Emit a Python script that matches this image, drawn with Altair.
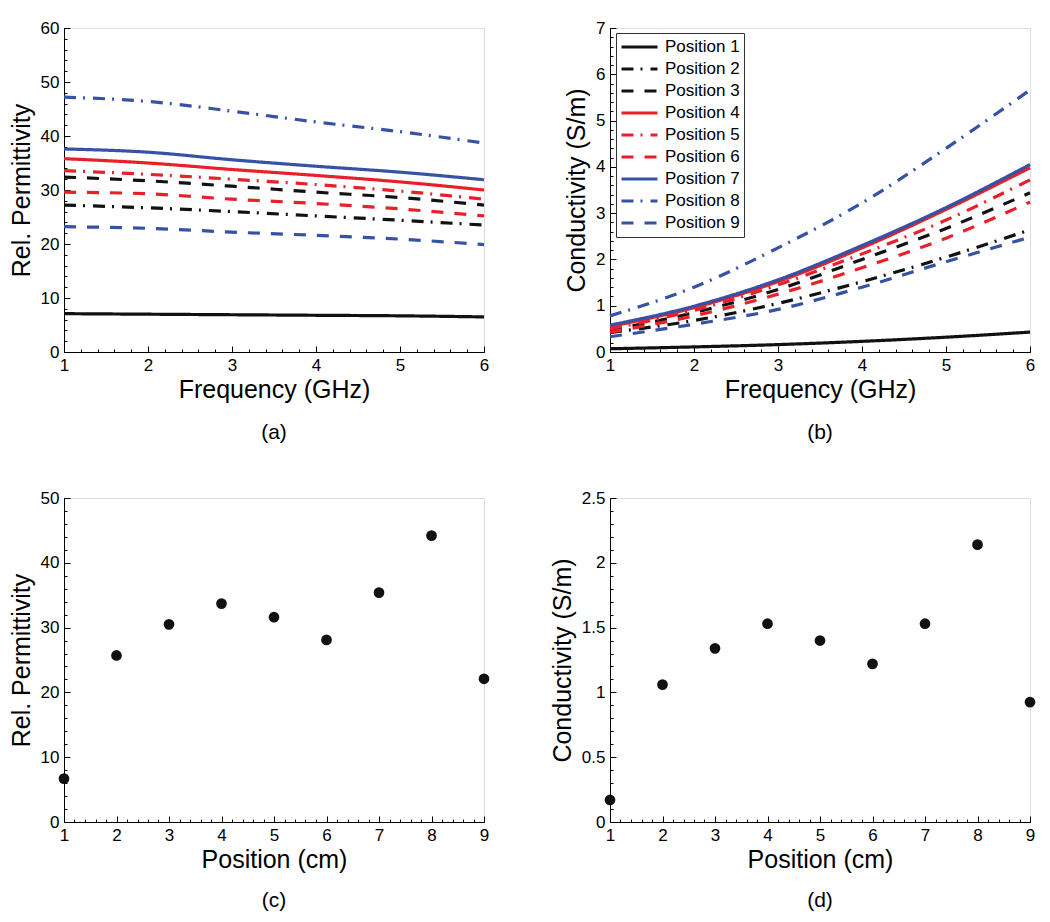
import altair as alt
import pandas as pd

FONT = "Liberation Sans"

# ---------------- data ----------------
freq = [1, 2, 3, 4, 5, 6]
positions = [f"Position {i}" for i in range(1, 10)]

perm_p1 = [7.1, 7.0, 6.9, 6.8, 6.7, 6.5]
perm_p2 = [27.2, 26.7, 26.0, 25.2, 24.4, 23.5]
perm_p3 = [32.4, 31.7, 30.7, 29.6, 28.6, 27.2]
perm_p4 = [35.8, 35.0, 33.8, 32.7, 31.5, 30.0]
perm_p5 = [33.6, 32.9, 32.0, 31.0, 29.8, 28.3]
perm_p6 = [29.6, 29.3, 28.3, 27.5, 26.5, 25.2]
perm_p7 = [37.6, 37.0, 35.6, 34.4, 33.3, 31.9]
perm_p8 = [47.2, 46.4, 44.6, 42.6, 40.8, 38.7]
perm_p9 = [23.2, 22.9, 22.2, 21.6, 20.9, 19.9]

cond_p1 = [0.07, 0.11, 0.16, 0.23, 0.32, 0.43]
cond_p2 = [0.42, 0.68, 1.05, 1.52, 2.05, 2.64]
cond_p3 = [0.47, 0.85, 1.35, 2.00, 2.67, 3.44]
cond_p4 = [0.55, 0.96, 1.52, 2.25, 3.08, 3.98]
cond_p5 = [0.50, 0.90, 1.45, 2.12, 2.85, 3.72]
cond_p6 = [0.43, 0.78, 1.25, 1.82, 2.46, 3.24]
cond_p7 = [0.58, 0.99, 1.56, 2.30, 3.12, 4.05]
cond_p8 = [0.78, 1.40, 2.25, 3.22, 4.40, 5.66]
cond_p9 = [0.33, 0.60, 0.92, 1.40, 1.95, 2.48]

scatter_pos = [1, 2, 3, 4, 5, 6, 7, 8, 9]
scatter_perm = [6.7, 25.7, 30.5, 33.7, 31.6, 28.1, 35.4, 44.2, 22.1]
scatter_cond = [0.17, 1.06, 1.34, 1.53, 1.40, 1.22, 1.53, 2.14, 0.925]

perm_series = [perm_p1, perm_p2, perm_p3, perm_p4, perm_p5, perm_p6, perm_p7, perm_p8, perm_p9]
cond_series = [cond_p1, cond_p2, cond_p3, cond_p4, cond_p5, cond_p6, cond_p7, cond_p8, cond_p9]

BLACK, RED, BLUE = "#111111", "#E8202A", "#3552A5"
line_colors = [BLACK, BLACK, BLACK, RED, RED, RED, BLUE, BLUE, BLUE]
SOLID, DASHDOT, DASHED = [1, 0], [12, 7, 2, 8], [12, 11]
line_dashes = [SOLID, DASHDOT, DASHED] * 3


def long_df(series):
    rows = []
    for name, vals in zip(positions, series):
        for f, v in zip(freq, vals):
            rows.append({"freq": f, "value": v, "position": name})
    return pd.DataFrame(rows)


df_a = long_df(perm_series)
df_b = long_df(cond_series)
df_c = pd.DataFrame({"pos": scatter_pos, "value": scatter_perm})
df_d = pd.DataFrame({"pos": scatter_pos, "value": scatter_cond})

W, H = 420, 324


def frange(a, b, step):
    n = int(round((b - a) / step))
    return [round(a + i * step, 6) for i in range(n + 1)]


def label_axis(orient, values, title, tpad):
    return alt.Axis(
        orient=orient, values=values, tickSize=0, labelPadding=5,
        labelFontSize=17, labelFont=FONT, labelColor="black",
        labelFlush=False, labelOverlap=False, format=".1~f",
        title=title, titleFont=FONT, titleFontSize=25, titleFontWeight="normal",
        titleColor="black", titlePadding=tpad,
        domainColor="black", domainWidth=1, grid=False,
    )


def tick_axis(orient, values, size):
    # negative tick size (via expression) -> ticks point into the plot
    return alt.Axis(
        orient=orient, values=values, labels=False, domain=False,
        title=None, grid=False, minExtent=0, tickColor="black", tickWidth=1,
        tickSize={"expr": str(-size)},
    )


def panel(main_mark, data, xf, yf, xdom, ydom, xmaj, xstep_min,
          ymaj, ystep_min, xtitle, ytitle, caption, cap_offset, extra=None):
    xs = alt.Scale(domain=xdom, nice=False, zero=False)
    ys = alt.Scale(domain=ydom, nice=False, zero=False)
    enc = dict(
        x=alt.X(xf, scale=xs, axis=label_axis("bottom", xmaj, xtitle, 4)),
        y=alt.Y(yf, scale=ys, axis=label_axis("left", ymaj, ytitle, 6)),
    )
    if extra:
        enc.update(extra)
    main = main_mark.encode(**enc)
    major = alt.Chart(data).mark_point(opacity=0).encode(
        x=alt.X(xf, scale=xs, axis=tick_axis("bottom", xmaj, 6)),
        y=alt.Y(yf, scale=ys, axis=tick_axis("left", ymaj, 6)),
    )
    minor = alt.Chart(data).mark_point(opacity=0).encode(
        x=alt.X(xf, scale=xs, axis=tick_axis("bottom", frange(xdom[0], xdom[1], xstep_min), 3)),
        y=alt.Y(yf, scale=ys, axis=tick_axis("left", frange(ydom[0], ydom[1], ystep_min), 3)),
    )
    return (
        alt.layer(main, major, minor)
        .resolve_axis(x="independent", y="independent")
        .properties(
            width=W, height=H,
            title=alt.TitleParams(caption, orient="bottom", anchor="middle", font=FONT,
                                  fontSize=21, fontWeight="normal", color="black",
                                  offset=cap_offset),
        )
    )


color_scale = alt.Scale(domain=positions, range=line_colors)
dash_scale = alt.Scale(domain=positions, range=line_dashes)

legend_b = alt.Legend(
    title=None, orient="none", legendX=6, legendY=5, symbolType="stroke",
    symbolSize=1296, symbolStrokeWidth=3, clipHeight=20, rowPadding=2,
    labelFontSize=17, labelFont=FONT, labelColor="black", labelOffset=6,
    strokeColor="#333333", fillColor="white", padding=4,
)

chart_a = panel(
    alt.Chart(df_a).mark_line(strokeWidth=3.2, interpolate="monotone"), df_a,
    "freq:Q", "value:Q", [1, 6], [0, 60], freq, 0.2, frange(0, 60, 10), 2,
    "Frequency (GHz)", "Rel. Permittivity", "(a)", 20,
    extra=dict(
        color=alt.Color("position:N", scale=color_scale, legend=None),
        strokeDash=alt.StrokeDash("position:N", scale=dash_scale, legend=None),
    ),
)

chart_b = panel(
    alt.Chart(df_b).mark_line(strokeWidth=3.2, interpolate="monotone"), df_b,
    "freq:Q", "value:Q", [1, 6], [0, 7], freq, 0.2, frange(0, 7, 1), 0.2,
    "Frequency (GHz)", "Conductivity (S/m)", "(b)", 20,
    extra=dict(
        color=alt.Color("position:N", scale=color_scale, legend=legend_b),
        strokeDash=alt.StrokeDash("position:N", scale=dash_scale, legend=legend_b),
    ),
)

chart_c = panel(
    alt.Chart(df_c).mark_circle(size=115, color="#111111", opacity=1), df_c,
    "pos:Q", "value:Q", [1, 9], [0, 50], scatter_pos, 0.2, frange(0, 50, 10), 2,
    "Position (cm)", "Rel. Permittivity", "(c)", 18,
)

chart_d = panel(
    alt.Chart(df_d).mark_circle(size=115, color="#111111", opacity=1), df_d,
    "pos:Q", "value:Q", [1, 9], [0, 2.5], scatter_pos, 0.2, frange(0, 2.5, 0.5), 0.1,
    "Position (cm)", "Conductivity (S/m)", "(d)", 18,
)

chart = (
    alt.concat(chart_a, chart_b, chart_c, chart_d, columns=2,
               spacing={"row": 146, "column": 126}, bounds="flush")
    .resolve_scale(color="independent", strokeDash="independent")
    .resolve_legend(color="independent", strokeDash="independent")
    .properties(padding={"left": 0, "top": 10, "right": 4, "bottom": 0})
    .configure_view(stroke="transparent", strokeWidth=0)
    .configure(font=FONT)
)

chart.save("out.html", embed_options={"renderer": "svg", "actions": False})
